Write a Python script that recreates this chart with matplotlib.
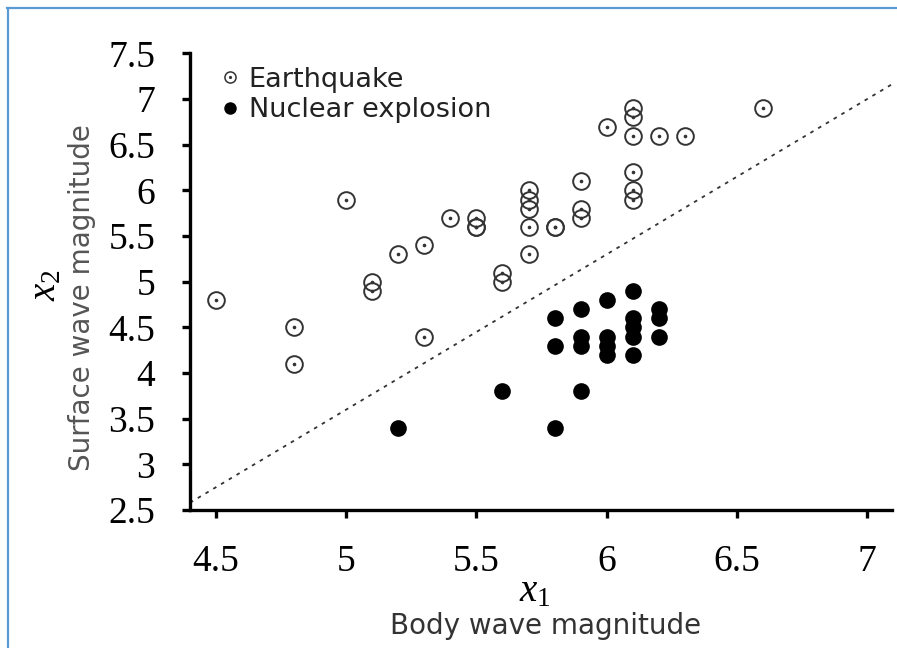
"""
Seismic discrimination scatter: body wave vs surface wave magnitude
for earthquakes and nuclear explosions, with a linear separating line.
"""
import matplotlib
matplotlib.use("Agg")
import matplotlib.pyplot as plt
from matplotlib.lines import Line2D

plt.rcParams["mathtext.fontset"] = "custom"
plt.rcParams["mathtext.rm"] = "Liberation Serif"
plt.rcParams["mathtext.it"] = "Liberation Serif:italic"

# ─── Data ──────────────────────────────────────────────────────────────────────

# earthquakes: body wave magnitude (x1), surface wave magnitude (x2)
quake_x1 = [4.5, 4.8, 4.8, 5.0, 5.1, 5.1, 5.2, 5.3, 5.3, 5.4,
            5.5, 5.5, 5.5, 5.6, 5.6, 5.7, 5.7, 5.7, 5.7, 5.7,
            5.8, 5.8, 5.9, 5.9, 5.9, 6.0, 6.1, 6.1, 6.1, 6.1,
            6.1, 6.1, 6.2, 6.3, 6.6]
quake_x2 = [4.8, 4.5, 4.1, 5.9, 5.0, 4.9, 5.3, 5.4, 4.4, 5.7,
            5.7, 5.6, 5.6, 5.1, 5.0, 6.0, 5.9, 5.8, 5.6, 5.3,
            5.6, 5.6, 6.1, 5.8, 5.7, 6.7, 6.9, 6.8, 6.6, 6.2,
            6.0, 5.9, 6.6, 6.6, 6.9]

# nuclear explosions
nuke_x1 = [5.2, 5.6, 5.8, 5.8, 5.8, 5.9, 5.9, 5.9, 5.9, 6.0,
           6.0, 6.0, 6.0, 6.1, 6.1, 6.1, 6.1, 6.1, 6.2, 6.2,
           6.2]
nuke_x2 = [3.4, 3.8, 3.4, 4.6, 4.3, 3.8, 4.7, 4.4, 4.3, 4.8,
           4.4, 4.3, 4.2, 4.9, 4.6, 4.5, 4.4, 4.2, 4.7, 4.6,
           4.4]

# separating line endpoints
line_x1 = [4.4, 7.1]
line_x2 = [2.58, 7.17]

x_ticks = [4.5, 5, 5.5, 6, 6.5, 7]
y_ticks = [2.5, 3, 3.5, 4, 4.5, 5, 5.5, 6, 6.5, 7, 7.5]

# ─── Plot ──────────────────────────────────────────────────────────────────────

W, H = 897, 648
fig = plt.figure(figsize=(W / 100, H / 100), dpi=100)
ax = fig.add_axes([190 / W, (H - 510) / H, (892 - 190) / W, (510 - 53.5) / H])

ax.plot(line_x1, line_x2, color="#333333", lw=1.3, dashes=(2, 3), zorder=1)

ax.plot(quake_x1, quake_x2, "o", ls="none", ms=12, mfc="none", mec="#333333",
        mew=1.4, zorder=3)
ax.plot(quake_x1, quake_x2, "o", ls="none", ms=1.6, color="#333333", zorder=3)
ax.plot(nuke_x1, nuke_x2, "o", ls="none", ms=12, color="black", mew=0, zorder=3)

ax.set_xlim(4.4, 7.096)
ax.set_ylim(2.5, 7.5)
ax.set_xticks(x_ticks)
ax.set_xticklabels([f"{v:g}" for v in x_ticks])
ax.set_yticks(y_ticks)
ax.set_yticklabels([f"{v:g}" for v in y_ticks])

for side in ("top", "right"):
    ax.spines[side].set_visible(False)
for side in ("left", "bottom"):
    ax.spines[side].set_linewidth(2.4)
ax.tick_params(direction="out", length=6, width=2.4, pad=19)
for lbl in ax.get_xticklabels() + ax.get_yticklabels():
    lbl.set_fontfamily("Liberation Serif")
    lbl.set_fontsize(27)

# legend with dotted open circle
h_quake = (Line2D([], [], marker="o", ls="none", ms=8, mfc="none", mec="#333333", mew=1.1),
           Line2D([], [], marker="o", ls="none", ms=1.3, color="#333333"))
h_nuke = Line2D([], [], marker="o", ls="none", ms=9, color="black", mew=0)
leg = ax.legend([h_quake, h_nuke], ["Earthquake", "Nuclear explosion"],
                loc="upper left", bbox_to_anchor=(0.012, 1.018), frameon=False,
                handlelength=0.7, handletextpad=0.35, labelspacing=0.15,
                borderaxespad=0.4, prop={"family": "DejaVu Sans", "size": 19.5})
for t in leg.get_texts():
    t.set_color("#222222")

# axis labels
fig.text(535 / W, 1 - 590 / H, r"$x_{\mathit{1}}$", fontsize=28, ha="center", va="center")
fig.text(546 / W, 1 - 626 / H, "Body wave magnitude", fontsize=20,
         family="DejaVu Sans", color="#333333", ha="center", va="center")
fig.text(44 / W, 1 - 285 / H, r"$x_{\mathit{2}}$", fontsize=28, rotation=90,
         ha="center", va="center")
fig.text(82 / W, 1 - 298 / H, "Surface wave magnitude", fontsize=20,
         family="DejaVu Sans", color="#555555", rotation=90, ha="center", va="center")

# frame lines on the left and top edges
fig.add_artist(Line2D([8 / W, 8 / W], [0, 1 - 8 / H], transform=fig.transFigure,
                      color="#5b9bd5", lw=1.6))
fig.add_artist(Line2D([7 / W, 1], [1 - 8 / H, 1 - 8 / H], transform=fig.transFigure,
                      color="#5b9bd5", lw=1.6))

fig.savefig("out.png", dpi=100)
